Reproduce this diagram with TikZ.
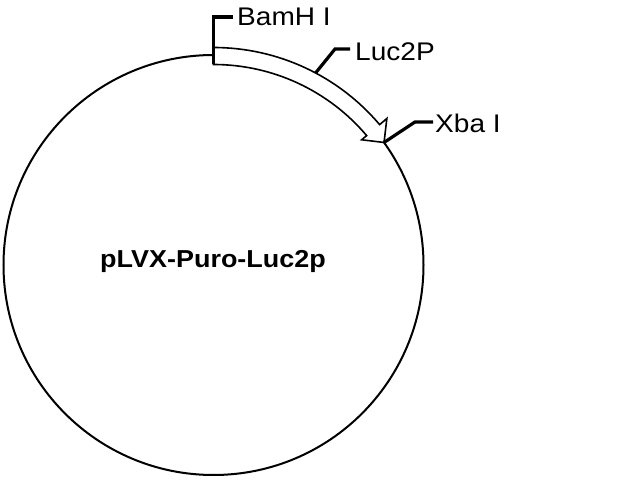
\documentclass[tikz,border=0pt]{standalone}
\usepackage{fontspec}
\setmainfont{Liberation Sans}[FakeStretch=1.1]
\usetikzlibrary{calc}
\begin{document}
\begin{tikzpicture}[x=1pt,y=1pt,
  backbone/.style={line width=2pt},
  band/.style={line width=1.6pt,fill=white,line join=miter},
  tick/.style={line width=3.2pt,line cap=butt,line join=miter},
  lbl/.style={anchor=base west,inner sep=0pt,font=\fontsize{25.5}{30}\selectfont},
  ttl/.style={anchor=base,inner sep=0pt,font=\fontsize{24.5}{30}\selectfont\bfseries}]
\useasboundingbox (0,0) rectangle (640,480);
\coordinate (C) at (213.5,215);
% backbone circle (absent under the Luc2P arrow)
\draw[backbone] ($(C)+(90:210)$) arc[start angle=90,end angle=395.7,radius=210];
% Luc2P arrow
\coordinate (tip) at ($(C)+(35.7:210)$);
\draw[band] ($(C)+(90:200.5)$) -- ($(C)+(90:217.5)$)
  arc[start angle=90,end angle=40.2,radius=217.5]
  -- ($(C)+(40.2:227)$) -- (tip) -- ($(C)+(40.2:194)$) -- ($(C)+(40.2:200.5)$)
  arc[start angle=40.2,end angle=90,radius=200.5] -- cycle;
% BamH I
\coordinate (bamA) at ($(C)+(90:200.5)$);
\coordinate (bamB) at (213.5,463);
\coordinate (bamC) at (233,463);
\draw[tick] (bamA) -- (bamB) -- (bamC);
\node[lbl] (bam) at (237,454) {BamH I};
% Luc2P
\coordinate (lucA) at ($(C)+(62:217.5)$);
\coordinate (lucB) at (335,431);
\coordinate (lucC) at (350,431);
\draw[tick] (lucA) -- (lucB) -- (lucC);
\node[lbl] (luc) at (355,419) {Luc2P};
% Xba I
\coordinate (xbaB) at (415,358);
\coordinate (xbaC) at (433,358);
\draw[tick] (tip) -- (xbaB) -- (xbaC);
\node[lbl] (xba) at (435,347.7) {Xba I};
% title
\node[ttl] (title) at (213,213) {pLVX-Puro-Luc2p};
\end{tikzpicture}
\end{document}
